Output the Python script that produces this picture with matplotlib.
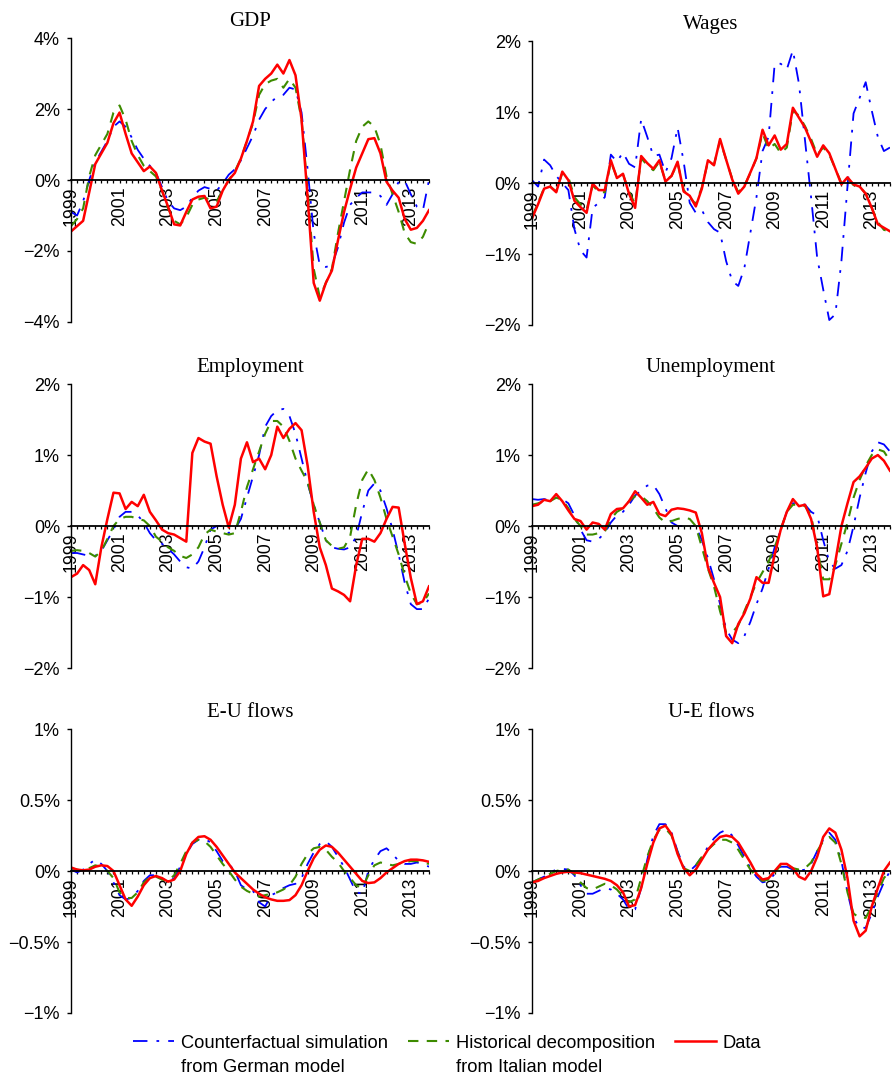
import matplotlib.pyplot as plt
import numpy as np
from matplotlib.ticker import MultipleLocator, FixedLocator, FuncFormatter
from matplotlib.lines import Line2D

plt.rcParams['font.family'] = 'sans-serif'
plt.rcParams['font.sans-serif'] = ['Liberation Sans', 'DejaVu Sans']

# quarterly observations, 1999Q1 .. 2013Q4
quarters = 1999 + np.arange(60) / 4
year_ticks = [1999, 2001, 2003, 2005, 2007, 2009, 2011, 2013]

gdp_data = [-1.45, -1.3, -1.15, -0.35, 0.45, 0.75, 1.05, 1.6, 1.9, 1.3,
            0.75, 0.5, 0.25, 0.38, 0.2, -0.3, -0.75, -1.25, -1.28, -0.9,
            -0.55, -0.47, -0.45, -0.8, -0.75, -0.3, 0.0, 0.2, 0.6, 1.1,
            1.65, 2.65, 2.85, 3.0, 3.25, 3.0, 3.38, 2.95, 1.7, -0.5,
            -2.9, -3.4, -2.9, -2.55, -1.7, -0.9, -0.25, 0.35, 0.75, 1.15,
            1.18, 0.75, -0.05, -0.3, -0.5, -1.1, -1.4, -1.35, -1.15, -0.85]
gdp_italian = [-1.3, -1.1, -0.8, 0.1, 0.7, 1.0, 1.3, 1.9, 2.1, 1.7,
               1.1, 0.7, 0.4, 0.25, 0.1, -0.3, -0.8, -1.15, -1.25, -1.05,
               -0.7, -0.55, -0.5, -0.55, -0.6, -0.3, 0.0, 0.25, 0.6, 1.1,
               1.6, 2.4, 2.7, 2.8, 2.85, 2.6, 2.85, 2.6, 1.7, -0.3,
               -2.5, -3.3, -2.9, -2.5, -1.5, -0.6, 0.3, 1.1, 1.5, 1.65,
               1.5, 1.0, 0.1, -0.4, -0.9, -1.5, -1.75, -1.8, -1.6, -1.2]
gdp_german = [-0.9, -1.0, -0.6, 0.0, 0.5, 0.8, 1.1, 1.5, 1.65, 1.5,
              1.2, 0.85, 0.6, 0.4, 0.2, -0.2, -0.6, -0.8, -0.85, -0.75,
              -0.5, -0.3, -0.2, -0.25, -0.3, -0.1, 0.15, 0.3, 0.55, 0.9,
              1.25, 1.7, 2.0, 2.2, 2.35, 2.4, 2.6, 2.55, 1.9, 0.3,
              -1.5, -2.4, -2.45, -2.4, -1.9, -1.2, -0.7, -0.5, -0.35, -0.35,
              -0.35, -0.45, -0.7, -0.4, -0.05, -0.02, -0.4, -0.75, -0.85, 0.0]

wages_data = [-0.5, -0.3, -0.08, -0.05, -0.13, 0.16, 0.04, -0.25, -0.34, -0.42,
              -0.01, -0.1, -0.1, 0.32, 0.07, 0.13, -0.15, -0.35, 0.38, 0.28,
              0.2, 0.32, 0.02, 0.1, 0.3, -0.12, -0.18, -0.33, -0.08, 0.32,
              0.25, 0.62, 0.33, 0.05, -0.15, -0.05, 0.15, 0.35, 0.75, 0.53,
              0.67, 0.47, 0.55, 1.06, 0.92, 0.78, 0.58, 0.37, 0.53, 0.42,
              0.2, -0.02, 0.08, -0.02, -0.05, -0.15, -0.35, -0.58, -0.63, -0.68]
wages_italian = [-0.48, -0.28, -0.07, -0.05, -0.12, 0.14, 0.08, -0.2, -0.3, -0.38,
                 -0.03, -0.13, -0.13, 0.3, 0.08, 0.12, -0.12, -0.3, 0.35, 0.25,
                 0.18, 0.3, 0.03, 0.1, 0.28, -0.1, -0.2, -0.3, -0.06, 0.3,
                 0.26, 0.6, 0.33, 0.06, -0.13, -0.04, 0.14, 0.35, 0.7, 0.48,
                 0.55, 0.42, 0.5, 1.02, 0.95, 0.8, 0.62, 0.4, 0.5, 0.4,
                 0.2, 0.0, 0.07, -0.03, -0.05, -0.15, -0.35, -0.55, -0.66, -0.68]
wages_german = [0.04, -0.05, 0.33, 0.25, 0.1, 0.0, -0.1, -0.65, -0.95, -1.05,
                -0.35, -0.28, -0.2, 0.4, 0.3, 0.43, 0.27, 0.22, 0.9, 0.65,
                0.38, 0.4, 0.15, 0.35, 0.78, 0.3, -0.28, -0.42, -0.38, -0.55,
                -0.65, -0.7, -1.1, -1.38, -1.45, -1.2, -0.7, -0.2, 0.45, 0.65,
                1.68, 1.68, 1.6, 1.87, 1.4, 0.6, -0.2, -1.05, -1.5, -1.93,
                -1.85, -1.1, -0.05, 0.98, 1.2, 1.42, 1.02, 0.65, 0.45, 0.5]

emp_data = [-0.72, -0.67, -0.55, -0.62, -0.82, -0.3, 0.1, 0.47, 0.46, 0.24,
            0.34, 0.28, 0.44, 0.2, 0.08, -0.05, -0.1, -0.12, -0.17, -0.22,
            1.03, 1.24, 1.19, 1.16, 0.7, 0.3, -0.02, 0.3, 0.95, 1.18,
            0.9, 0.95, 0.8, 1.0, 1.4, 1.24, 1.37, 1.45, 1.35, 0.85,
            0.2, -0.3, -0.55, -0.88, -0.92, -0.97, -1.06, -0.55, -0.18, -0.18,
            -0.22, -0.1, 0.1, 0.27, 0.26, -0.25, -0.73, -1.1, -1.06, -0.85]
emp_italian = [-0.35, -0.34, -0.35, -0.38, -0.43, -0.35, -0.18, 0.0, 0.1, 0.13,
               0.13, 0.1, 0.08, 0.0, -0.15, -0.22, -0.3, -0.35, -0.42, -0.45,
               -0.4, -0.3, -0.12, -0.05, -0.08, -0.1, -0.12, -0.1, 0.2, 0.55,
               0.8, 1.05, 1.3, 1.48, 1.48, 1.4, 1.2, 0.95, 0.78, 0.62,
               0.3, 0.05, -0.2, -0.28, -0.32, -0.3, -0.15, 0.3, 0.65, 0.8,
               0.65, 0.4, 0.1, -0.15, -0.4, -0.7, -0.95, -1.1, -1.08, -0.95]
emp_german = [-0.38, -0.38, -0.4, -0.42, -0.42, -0.35, -0.2, -0.05, 0.13, 0.2,
              0.2, 0.15, 0.05, -0.1, -0.2, -0.25, -0.32, -0.4, -0.5, -0.58,
              -0.6, -0.5, -0.3, -0.05, 0.0, 0.0, -0.1, -0.05, 0.1, 0.4,
              0.7, 1.0, 1.4, 1.55, 1.63, 1.65, 1.55, 1.3, 0.95, 0.6,
              0.3, 0.05, -0.2, -0.3, -0.32, -0.33, -0.3, -0.15, 0.2, 0.5,
              0.6, 0.5, 0.25, -0.05, -0.4, -0.8, -1.1, -1.17, -1.17, -1.02]

unemp_data = [0.28, 0.3, 0.37, 0.35, 0.45, 0.35, 0.22, 0.1, 0.07, -0.05,
              0.05, 0.03, -0.05, 0.17, 0.24, 0.25, 0.35, 0.49, 0.4, 0.3,
              0.34, 0.17, 0.14, 0.23, 0.25, 0.24, 0.22, 0.19, -0.1, -0.58,
              -0.8, -1.0, -1.55, -1.65, -1.38, -1.23, -1.02, -0.72, -0.8, -0.8,
              -0.4, -0.05, 0.2, 0.38, 0.28, 0.3, 0.1, -0.3, -0.99, -0.96,
              -0.5, 0.0, 0.32, 0.62, 0.7, 0.82, 0.95, 1.0, 0.92, 0.78]
unemp_italian = [0.3, 0.32, 0.35, 0.35, 0.4, 0.37, 0.25, 0.1, 0.0, -0.12,
                 -0.12, -0.1, -0.08, 0.1, 0.2, 0.25, 0.35, 0.42, 0.42, 0.35,
                 0.25, 0.12, 0.05, 0.07, 0.1, 0.12, 0.1, 0.0, -0.3, -0.6,
                 -0.85, -1.2, -1.5, -1.5, -1.4, -1.2, -1.0, -0.8, -0.65, -0.5,
                 -0.3, -0.05, 0.2, 0.3, 0.3, 0.28, 0.15, -0.3, -0.75, -0.75,
                 -0.55, -0.25, 0.05, 0.4, 0.65, 0.85, 1.0, 1.08, 1.05, 0.92]
unemp_german = [0.38, 0.37, 0.38, 0.36, 0.4, 0.38, 0.32, 0.15, -0.05, -0.2,
                -0.22, -0.18, -0.1, 0.05, 0.15, 0.2, 0.3, 0.43, 0.5, 0.57,
                0.58, 0.45, 0.25, 0.05, 0.0, 0.0, 0.0, 0.0, -0.2, -0.45,
                -0.75, -1.1, -1.45, -1.6, -1.65, -1.55, -1.35, -1.1, -0.88, -0.6,
                -0.3, -0.05, 0.2, 0.32, 0.33, 0.3, 0.2, 0.15, -0.2, -0.5,
                -0.6, -0.55, -0.35, 0.0, 0.4, 0.75, 1.05, 1.18, 1.15, 1.05]

eu_data = [0.025, 0.01, 0.005, 0.01, 0.03, 0.04, 0.035, 0.0, -0.1, -0.2,
           -0.245, -0.18, -0.1, -0.05, -0.035, -0.05, -0.075, -0.06, 0.0, 0.12,
           0.2, 0.24, 0.245, 0.22, 0.17, 0.11, 0.05, -0.01, -0.05, -0.09,
           -0.13, -0.16, -0.185, -0.2, -0.21, -0.21, -0.205, -0.17, -0.1, 0.0,
           0.09, 0.15, 0.18, 0.17, 0.13, 0.08, 0.03, -0.02, -0.07, -0.085,
           -0.08, -0.05, -0.01, 0.02, 0.05, 0.07, 0.08, 0.08, 0.075, 0.065]
eu_italian = [0.02, 0.01, 0.0, 0.02, 0.04, 0.03, 0.0, -0.05, -0.15, -0.19,
              -0.19, -0.15, -0.08, -0.04, -0.04, -0.06, -0.07, -0.03, 0.05, 0.14,
              0.2, 0.22, 0.21, 0.17, 0.11, 0.05, 0.0, -0.06, -0.11, -0.14,
              -0.16, -0.18, -0.17, -0.16, -0.15, -0.13, -0.1, -0.04, 0.05, 0.12,
              0.16, 0.17, 0.15, 0.1, 0.06, 0.0, -0.05, -0.1, -0.12, -0.03,
              0.04, 0.06, 0.05, 0.04, 0.05, 0.06, 0.07, 0.07, 0.06, 0.05]
eu_german = [0.01, -0.01, 0.01, 0.05, 0.08, 0.05, 0.0, -0.08, -0.17, -0.2,
             -0.19, -0.14, -0.07, -0.03, -0.03, -0.05, -0.08, -0.05, 0.03, 0.12,
             0.19, 0.22, 0.23, 0.2, 0.14, 0.07, 0.05, 0.0, -0.1, -0.13,
             -0.14, -0.22, -0.25, -0.17, -0.15, -0.12, -0.1, -0.09, -0.05, 0.05,
             0.13, 0.19, 0.21, 0.17, 0.1, 0.03, -0.06, -0.15, -0.16, 0.0,
             0.08, 0.14, 0.16, 0.12, 0.07, 0.05, 0.05, 0.06, 0.05, 0.03]

ue_data = [-0.08, -0.07, -0.05, -0.035, -0.02, -0.01, -0.005, -0.01, -0.015, -0.025,
           -0.035, -0.045, -0.055, -0.07, -0.1, -0.15, -0.25, -0.24, -0.12, 0.05,
           0.2, 0.3, 0.32, 0.26, 0.12, 0.02, -0.03, 0.01, 0.08, 0.15,
           0.2, 0.24, 0.25, 0.24, 0.2, 0.13, 0.06, -0.02, -0.06, -0.05,
           0.0, 0.05, 0.05, 0.02, -0.04, -0.06, 0.0, 0.1, 0.24, 0.3,
           0.27, 0.15, -0.05, -0.35, -0.46, -0.42, -0.25, -0.12, 0.0, 0.06]
ue_italian = [-0.08, -0.06, -0.04, -0.02, 0.0, 0.01, 0.01, -0.02, -0.08, -0.12,
              -0.13, -0.11, -0.09, -0.1, -0.13, -0.18, -0.22, -0.2, -0.05, 0.1,
              0.22, 0.29, 0.3, 0.25, 0.13, 0.02, 0.0, 0.04, 0.1, 0.15,
              0.19, 0.22, 0.22, 0.2, 0.15, 0.08, 0.01, -0.04, -0.07, -0.06,
              -0.01, 0.04, 0.04, 0.02, 0.01, 0.02, 0.06, 0.14, 0.21, 0.24,
              0.2, 0.05, -0.15, -0.3, -0.33, -0.33, -0.25, -0.15, -0.05, 0.0]
ue_german = [-0.08, -0.06, -0.04, -0.01, 0.01, 0.015, 0.01, -0.03, -0.1, -0.16,
             -0.16, -0.14, -0.12, -0.13, -0.16, -0.2, -0.27, -0.27, -0.12, 0.08,
             0.25, 0.33, 0.33, 0.27, 0.14, 0.03, 0.0, 0.04, 0.1, 0.17,
             0.23, 0.27, 0.29, 0.25, 0.18, 0.1, 0.02, -0.04, -0.08, -0.07,
             -0.02, 0.03, 0.03, 0.01, 0.0, 0.01, 0.05, 0.14, 0.22, 0.27,
             0.22, 0.07, -0.15, -0.33, -0.4, -0.4, -0.3, -0.18, -0.08, 0.0]

legend_first = ['Counterfactual simulation', 'Historical decomposition', 'Data']
legend_second = ['from German model', 'from Italian model', '']

german_style = dict(color='#0000ff', lw=1.3, linestyle=(0, (8, 5, 1.5, 5)))
italian_style = dict(color='#3d8b00', lw=1.5, linestyle=(0, (5, 4)))
data_style = dict(color='#ff0000', lw=1.8, linestyle='-')


def pct(v, pos):
    return ('%g%%' % v).replace('-', '\u2212')


def panel(rect, title, german, italian, data, lim, step):
    ax = fig.add_axes(rect)
    ax.plot(quarters, german, **german_style)
    ax.plot(quarters, italian, **italian_style)
    ax.plot(quarters, data, **data_style)
    ax.set_xlim(quarters[0], quarters[-1])
    ax.set_ylim(-lim, lim)
    ax.set_title(title, fontfamily='Liberation Serif', fontsize=15, pad=9)

    ax.spines['top'].set_visible(False)
    ax.spines['right'].set_visible(False)
    ax.spines['bottom'].set_position(('data', 0))
    ax.spines['bottom'].set_linewidth(1.3)
    ax.spines['left'].set_linewidth(1.0)

    ax.yaxis.set_major_locator(MultipleLocator(step))
    ax.yaxis.set_major_formatter(FuncFormatter(pct))
    ax.tick_params(axis='y', length=3, width=1.0, pad=5, labelsize=13)

    ax.xaxis.set_major_locator(FixedLocator(year_ticks))
    ax.xaxis.set_minor_locator(MultipleLocator(0.25))
    ax.set_xticklabels([str(y) for y in year_ticks], rotation=90)
    ax.tick_params(axis='x', which='both', length=2.5, width=0.9, pad=2, labelsize=12.7)
    return ax


fig = plt.figure(figsize=(8.93, 10.74), dpi=100)

left_col, right_col, w, h = 0.0795, 0.5957, 0.4009, 0.2644
panel([left_col, 0.7002, w, h], 'GDP', gdp_german, gdp_italian, gdp_data, 4, 2)
panel([right_col, 0.6974, w, h], 'Wages', wages_german, wages_italian, wages_data, 2, 1)
panel([left_col, 0.3780, w, h], 'Employment', emp_german, emp_italian, emp_data, 2, 1)
panel([right_col, 0.3780, w, h], 'Unemployment', unemp_german, unemp_italian, unemp_data, 2, 1)
panel([left_col, 0.0568, w, h], 'E-U flows', eu_german, eu_italian, eu_data, 1, 0.5)
panel([right_col, 0.0568, w, h], 'U-E flows', ue_german, ue_italian, ue_data, 1, 0.5)

# legend holds the first line of each label; the second lines are set
# underneath so that the handles sit level with the first line
handles = [Line2D([], [], **german_style), Line2D([], [], **italian_style), Line2D([], [], **data_style)]
leg = fig.legend(handles, legend_first, loc='center', bbox_to_anchor=(0.501, 31 / 1074), ncol=3,
                 frameon=False, fontsize=13.2, handlelength=2.2, handletextpad=0.4,
                 columnspacing=1.1, borderpad=0.0)
fig.canvas.draw()
for txt, extra in zip(leg.get_texts(), legend_second):
    if not extra:
        continue
    bb = txt.get_window_extent()
    fig.text(bb.x0 / fig.bbox.width, (bb.y0 + bb.height / 2 - 24) / fig.bbox.height, extra,
             fontsize=13.2, ha='left', va='center')

fig.savefig('out.png', dpi=100)
